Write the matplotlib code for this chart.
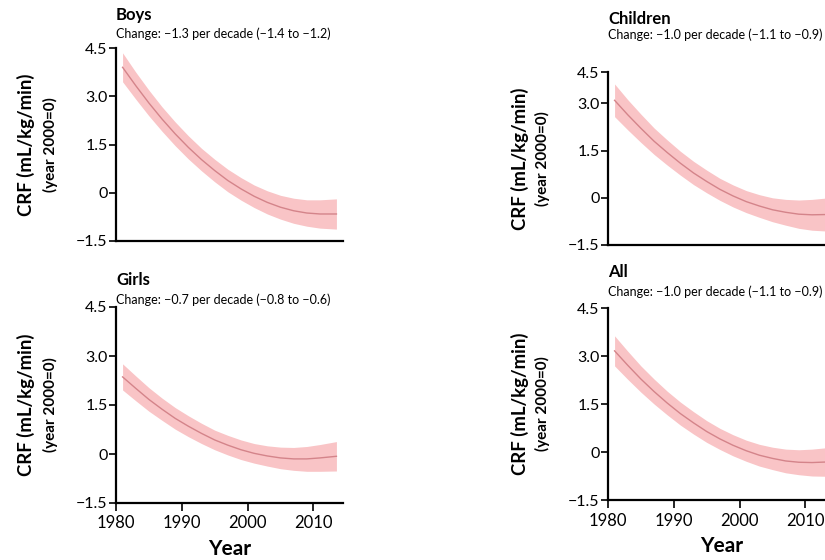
import matplotlib
matplotlib.use('Agg')
import matplotlib.pyplot as plt

plt.rcParams['font.family'] = ['Lato', 'DejaVu Sans']

# fitted CRF change (mL/kg/min, year 2000 = 0) with 95% band
years = [1981, 1983, 1985, 1987, 1989, 1991, 1993, 1995, 1997,
         1999, 2001, 2003, 2005, 2007, 2009, 2011, 2013.5]

boys_mid = [3.90, 3.33, 2.79, 2.29, 1.83, 1.41, 1.03, 0.69, 0.38,
            0.12, -0.11, -0.30, -0.45, -0.56, -0.63, -0.66, -0.66]
boys_hi = [4.35, 3.75, 3.19, 2.67, 2.20, 1.77, 1.38, 1.04, 0.73,
           0.47, 0.24, 0.06, -0.08, -0.17, -0.22, -0.22, -0.19]
boys_lo = [3.45, 2.91, 2.39, 1.91, 1.46, 1.05, 0.68, 0.34, 0.03,
           -0.23, -0.46, -0.66, -0.82, -0.95, -1.04, -1.10, -1.13]

girls_mid = [2.36, 2.01, 1.67, 1.37, 1.09, 0.85, 0.63, 0.43, 0.27,
             0.13, 0.02, -0.06, -0.12, -0.15, -0.15, -0.12, -0.07]
girls_hi = [2.76, 2.39, 2.03, 1.71, 1.42, 1.17, 0.94, 0.73, 0.57,
            0.43, 0.32, 0.25, 0.21, 0.20, 0.23, 0.29, 0.38]
girls_lo = [1.96, 1.63, 1.31, 1.03, 0.76, 0.53, 0.32, 0.13, -0.03,
            -0.17, -0.28, -0.37, -0.45, -0.50, -0.53, -0.53, -0.52]

children_mid = [3.10, 2.64, 2.21, 1.80, 1.44, 1.10, 0.79, 0.52, 0.27,
                0.06, -0.12, -0.26, -0.38, -0.46, -0.52, -0.54, -0.53]
children_hi = [3.62, 3.12, 2.66, 2.22, 1.84, 1.48, 1.16, 0.88, 0.62,
               0.41, 0.23, 0.10, 0.00, -0.05, -0.07, -0.05, 0.00]
children_lo = [2.58, 2.16, 1.76, 1.38, 1.04, 0.72, 0.42, 0.16, -0.08,
               -0.29, -0.47, -0.62, -0.76, -0.87, -0.97, -1.03, -1.06]

all_mid = [3.16, 2.71, 2.28, 1.89, 1.53, 1.20, 0.91, 0.64, 0.41,
           0.21, 0.04, -0.10, -0.20, -0.28, -0.32, -0.33, -0.31]
all_hi = [3.63, 3.15, 2.69, 2.28, 1.90, 1.56, 1.26, 0.98, 0.74,
          0.54, 0.37, 0.24, 0.15, 0.09, 0.07, 0.09, 0.14]
all_lo = [2.69, 2.27, 1.87, 1.50, 1.16, 0.84, 0.56, 0.30, 0.08,
          -0.12, -0.29, -0.44, -0.55, -0.65, -0.71, -0.75, -0.76]

titles = ['Boys', 'Girls', 'Children', 'All']
changes = ['Change: \u22121.3 per decade (\u22121.4 to \u22121.2)',
           'Change: \u22120.7 per decade (\u22120.8 to \u22120.6)',
           'Change: \u22121.0 per decade (\u22121.1 to \u22120.9)',
           'Change: \u22121.0 per decade (\u22121.1 to \u22120.9)']
ytick_labels = ['\u22121.5', '0', '1.5', '3.0', '4.5']
xticks = [1980, 1990, 2000, 2010]

W, H = 825, 560
fig = plt.figure(figsize=(W / 100, H / 100), dpi=100)

# panel boxes in pixels: left, top, right, bottom
boxes = [(116, 48, 343, 241), (116, 307, 343, 503),
         (608, 72, 835, 245), (608, 308, 835, 500)]
# the Children panel in the source is squashed at the top: its "4.5" sits at ~4.0
ytops = [4.5, 4.5, 4.0, 4.5]
title_y = [(20, 38), (285, 304), (24, 39), (277, 296)]
ylab_x = [(26, 50), (26, 50), (520, 542), (520, 542)]

series = [(boys_mid, boys_lo, boys_hi), (girls_mid, girls_lo, girls_hi),
          (children_mid, children_lo, children_hi), (all_mid, all_lo, all_hi)]

fill_c = '#f9c4c6'
line_c = '#d4848a'

for i in range(4):
    l, t, r, b = boxes[i]
    ax = fig.add_axes([l / W, 1 - b / H, (r - l) / W, (b - t) / H])
    mid, lo, hi = series[i]
    ax.fill_between(years, lo, hi, color=fill_c, lw=0)
    ax.plot(years, mid, color=line_c, lw=1.0)
    ax.set_xlim(1980, 2014.5)
    ax.set_ylim(-1.5, ytops[i])
    ax.set_yticks([-1.5, 0, 1.5, 3.0, ytops[i]])
    ax.set_yticklabels(ytick_labels, fontsize=11.5)
    for s in ['top', 'right']:
        ax.spines[s].set_visible(False)
    for s in ['left', 'bottom']:
        ax.spines[s].set_linewidth(1.6)
    ax.tick_params(axis='y', length=5, width=1.2, pad=1)
    if i in (1, 3):
        ax.set_xticks(xticks)
        ax.set_xticklabels([str(x) for x in xticks], fontsize=12)
        ax.tick_params(axis='x', length=6, width=1.2, pad=3)
        ax.set_xlabel('Year', fontsize=15, fontweight='bold')
        ax.xaxis.set_label_coords(0.5, -0.185)
        ax.xaxis.label.set_va('top')
    else:
        ax.set_xticks([])
    ax.patch.set_alpha(0)

    # titles
    fig.text(l / W, 1 - title_y[i][0] / H, titles[i], fontsize=12,
             fontweight='bold', va='baseline', ha='left')
    fig.text(l / W, 1 - title_y[i][1] / H, changes[i], fontsize=9,
             va='baseline', ha='left')

    # y labels
    yc = 1 - (t + b) / 2 / H
    fig.text(ylab_x[i][0] / W, yc, 'CRF (mL/kg/min)', rotation=90,
             fontsize=13.4, fontweight='bold', ha='center', va='center')
    fig.text(ylab_x[i][1] / W, yc, '(year 2000=0)', rotation=90,
             fontsize=11, fontweight='bold', ha='center', va='center')

fig.savefig('out.png', dpi=100)
